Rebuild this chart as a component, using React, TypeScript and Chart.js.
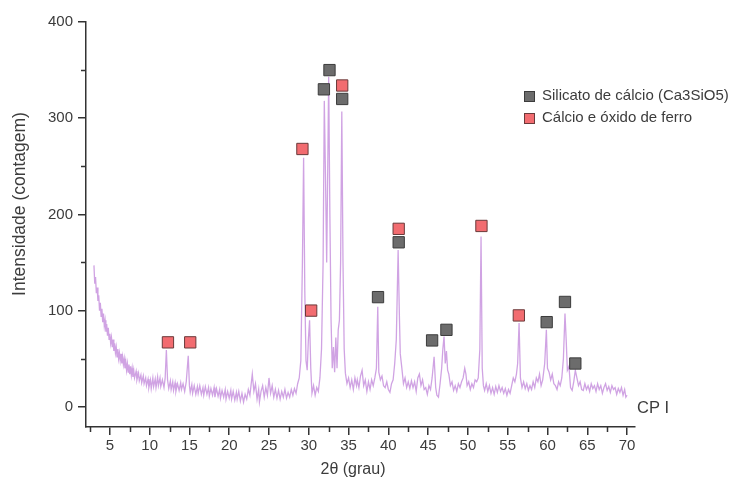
import { useEffect, useRef } from "react";
import { Chart, registerables } from "chart.js";

Chart.register(...registerables);

// Diffraction pattern of CP I cement: 2θ (degrees) and intensity (counts)
const twoTheta = [
  3.0, 3.1, 3.2, 3.3, 3.4, 3.5, 3.6, 3.7, 3.8, 3.9, 4.0, 4.1, 4.2, 4.3, 4.4, 4.5, 4.6, 4.7, 4.8, 4.9,
  5.0, 5.1, 5.2, 5.3, 5.4, 5.5, 5.6, 5.7, 5.8, 5.9, 6.0, 6.1, 6.2, 6.3, 6.4, 6.5, 6.6, 6.7, 6.8, 6.9,
  7.0, 7.1, 7.2, 7.3, 7.4, 7.5, 7.6, 7.7, 7.8, 7.9, 8.0, 8.1, 8.3, 8.4, 8.6, 8.7, 8.9, 9.0, 9.2, 9.3,
  9.5, 9.6, 9.8, 9.9, 10.1, 10.2, 10.4, 10.5, 10.7, 10.8, 11.0, 11.1, 11.3, 11.4, 11.6, 11.8, 11.95, 12.1, 12.25, 12.4,
  12.6, 12.7, 12.9, 13.0, 13.2, 13.3, 13.5, 13.7, 13.9, 14.0, 14.2, 14.4, 14.6, 14.85, 15.0, 15.1, 15.3, 15.4, 15.6, 15.8,
  16.0, 16.1, 16.3, 16.5, 16.7, 16.8, 17.0, 17.2, 17.4, 17.5, 17.7, 17.9, 18.1, 18.2, 18.4, 18.6, 18.8, 18.9, 19.1, 19.3,
  19.5, 19.6, 19.8, 20.0, 20.2, 20.3, 20.5, 20.7, 20.9, 21.0, 21.2, 21.4, 21.6, 21.8, 22.0, 22.2, 22.4, 22.6, 22.9, 23.1,
  23.3, 23.5, 23.7, 23.8, 24.0, 24.2, 24.4, 24.6, 24.8, 25.0, 25.2, 25.4, 25.6, 25.8, 26.0, 26.2, 26.4, 26.6, 26.8, 27.0,
  27.2, 27.4, 27.6, 27.8, 28.0, 28.2, 28.4, 28.6, 28.8, 29.0, 29.2, 29.35, 29.5, 29.65, 29.8, 29.95, 30.1, 30.25, 30.4, 30.6,
  30.8, 31.0, 31.2, 31.4, 31.6, 31.8, 31.95, 32.1, 32.25, 32.4, 32.5, 32.65, 32.8, 32.95, 33.1, 33.25, 33.4, 33.55, 33.7, 33.85,
  34.0, 34.15, 34.3, 34.45, 34.6, 34.8, 35.0, 35.2, 35.4, 35.6, 35.8, 36.0, 36.1, 36.3, 36.5, 36.7, 36.9, 37.1, 37.3, 37.5,
  37.7, 37.9, 38.1, 38.3, 38.5, 38.67, 38.8, 39.0, 39.2, 39.4, 39.6, 39.8, 40.0, 40.2, 40.4, 40.6, 40.8, 41.0, 41.23, 41.4,
  41.5, 41.7, 41.9, 42.1, 42.3, 42.5, 42.7, 42.9, 43.1, 43.3, 43.5, 43.7, 43.9, 44.1, 44.3, 44.5, 44.7, 44.9, 45.1, 45.3,
  45.5, 45.75, 45.95, 46.1, 46.3, 46.5, 46.7, 46.85, 47.0, 47.15, 47.3, 47.45, 47.6, 47.8, 48.0, 48.2, 48.4, 48.6, 48.8, 49.0,
  49.2, 49.4, 49.6, 49.75, 49.9, 50.1, 50.3, 50.5, 50.7, 50.9, 51.1, 51.3, 51.5, 51.65, 51.8, 51.95, 52.1, 52.3, 52.5, 52.7,
  52.9, 53.1, 53.3, 53.5, 53.7, 53.9, 54.1, 54.3, 54.5, 54.7, 54.9, 55.1, 55.3, 55.5, 55.7, 55.9, 56.1, 56.25, 56.43, 56.6,
  56.8, 57.0, 57.2, 57.4, 57.6, 57.8, 58.0, 58.2, 58.4, 58.6, 58.8, 59.0, 59.2, 59.4, 59.65, 59.86, 60.0, 60.2, 60.4, 60.6,
  60.8, 61.0, 61.2, 61.4, 61.6, 61.8, 62.0, 62.2, 62.35, 62.5, 62.7, 62.9, 63.1, 63.3, 63.5, 63.7, 63.9, 64.1, 64.3, 64.5,
  64.7, 64.9, 65.1, 65.3, 65.5, 65.7, 65.9, 66.1, 66.3, 66.5, 66.7, 66.9, 67.1, 67.3, 67.5, 67.7, 67.9, 68.1, 68.3, 68.5,
  68.7, 68.9, 69.1, 69.3, 69.5, 69.7, 69.85, 70.0,
];

const counts = [
  147, 128, 135, 118, 124, 110, 116, 100, 108, 94, 102, 88, 97, 84, 90, 78, 86, 74, 82, 70,
  76, 66, 72, 62, 70, 58, 66, 56, 62, 52, 60, 50, 56, 48, 55, 45, 52, 44, 50, 40,
  47, 38, 45, 36, 44, 34, 42, 33, 40, 31, 38, 30, 37, 28, 35, 27, 33, 25, 32, 24,
  30, 22, 29, 20, 28, 19, 30, 21, 29, 20, 31, 22, 30, 21, 28, 20, 30, 59, 28, 19,
  27, 18, 26, 17, 25, 16, 24, 17, 25, 18, 24, 16, 26, 53, 22, 15, 23, 14, 22, 13,
  21, 14, 22, 13, 20, 12, 21, 13, 20, 11, 19, 12, 20, 10, 19, 11, 18, 9, 17, 10,
  18, 8, 16, 9, 17, 8, 16, 7, 15, 8, 16, 6, 14, 5, 13, 8, 18, 12, 34, 16,
  24, 8, 18, 5, 16, 22, 10, 20, 12, 30, 14, 22, 10, 18, 9, 17, 8, 16, 10, 18,
  9, 15, 10, 18, 12, 19, 14, 24, 30, 48, 150, 259, 120, 48, 38, 70, 90, 40, 14, 22,
  12, 20, 16, 30, 60, 150, 318, 240, 150, 260, 343, 200, 90, 40, 62, 36, 72, 40, 80, 90,
  150, 307, 150, 60, 35, 24, 30, 20, 28, 18, 30, 22, 28, 20, 32, 38, 22, 28, 16, 26,
  18, 28, 22, 30, 40, 104, 36, 28, 32, 22, 20, 26, 18, 15, 24, 28, 45, 70, 163, 90,
  55, 40, 24, 30, 20, 26, 19, 27, 20, 26, 16, 30, 34, 22, 28, 18, 20, 13, 22, 18,
  30, 52, 20, 12, 10, 24, 40, 60, 73, 45, 58, 38, 34, 22, 26, 17, 22, 16, 24, 20,
  26, 30, 40, 34, 22, 26, 18, 24, 20, 28, 26, 30, 60, 177, 40, 22, 17, 24, 16, 22,
  14, 20, 13, 21, 15, 22, 16, 20, 14, 19, 12, 18, 14, 22, 30, 26, 34, 45, 87, 30,
  20, 26, 19, 24, 17, 22, 18, 26, 20, 30, 26, 34, 22, 28, 45, 80, 40, 36, 28, 34,
  24, 22, 18, 26, 22, 30, 50, 97, 70, 38, 42, 20, 17, 26, 38, 30, 22, 26, 18, 17,
  24, 18, 22, 16, 24, 19, 22, 16, 24, 18, 22, 14, 20, 24, 17, 21, 15, 22, 18, 20,
  13, 19, 15, 20, 12, 18, 10, 12,
];

// Phase identification markers
const silicatoTheta = [31.9, 32.6, 34.2, 38.7, 41.3, 45.5, 47.3, 59.9, 62.2, 63.5];
const silicatoCounts = [330, 350, 320, 114, 171, 69, 80, 88, 109, 45];
const ferroTheta = [12.3, 15.1, 29.2, 30.3, 34.2, 41.3, 51.7, 56.4];
const ferroCounts = [67, 67, 268, 100, 334, 185, 188, 95];

// Axis ticks
const xTickValues = [5, 10, 15, 20, 25, 30, 35, 40, 45, 50, 55, 60, 65, 70];
const xMinorValues = xTickValues.map((v) => v - 2.5);
const yTickValues = [0, 100, 200, 300, 400];
const yMinorValues = [50, 150, 250, 350];

const seriesNames = ["Silicato de cálcio (Ca3SiO5)", "Cálcio e óxido de ferro"];
const sampleLabel = "CP I";
const xTitle = "2θ (grau)";
const yTitle = "Intensidade (contagem)";

const AXIS = "#333333";
const TEXT = "#3c3c3c";
const LINE = "rgba(196, 140, 220, 0.8)";
const GRAY_FILL = "#6c6c6c";
const GRAY_EDGE = "#3c3c3c";
const RED_FILL = "#f26c70";
const RED_EDGE = "#6a3a3a";
const FONT = "'Liberation Sans', Arial, Helvetica, sans-serif";

const decorations = {
  id: "decorations",
  afterDraw(chart: any) {
    const { ctx, chartArea } = chart;
    const xs = chart.scales.x;
    const ys = chart.scales.y;
    ctx.save();

    // minor ticks
    ctx.strokeStyle = AXIS;
    ctx.lineWidth = 1.5;
    ctx.beginPath();
    for (const v of xMinorValues) {
      const px = Math.round(xs.getPixelForValue(v)) + 0.5;
      ctx.moveTo(px, chartArea.bottom);
      ctx.lineTo(px, chartArea.bottom + 5);
    }
    for (const v of yMinorValues) {
      const py = Math.round(ys.getPixelForValue(v)) + 0.5;
      ctx.moveTo(chartArea.left - 5, py);
      ctx.lineTo(chartArea.left, py);
    }
    ctx.stroke();

    // axis titles
    ctx.fillStyle = TEXT;
    ctx.font = `16px ${FONT}`;
    ctx.textAlign = "center";
    ctx.textBaseline = "middle";
    ctx.fillText(xTitle, 353, 470);

    ctx.save();
    ctx.translate(20, 204);
    ctx.rotate(-Math.PI / 2);
    ctx.font = `17.5px ${FONT}`;
    ctx.fillText(yTitle, 0, 0);
    ctx.restore();

    // legend
    const entries = [
      { fill: GRAY_FILL, edge: GRAY_EDGE, y: 96 },
      { fill: RED_FILL, edge: RED_EDGE, y: 118 },
    ];
    ctx.font = `15px ${FONT}`;
    ctx.textAlign = "left";
    entries.forEach((e, i) => {
      ctx.fillStyle = e.fill;
      ctx.strokeStyle = e.edge;
      ctx.lineWidth = 1;
      ctx.fillRect(524, e.y - 5, 11, 11);
      ctx.strokeRect(524.5, e.y - 4.5, 10, 10);
      ctx.fillStyle = TEXT;
      ctx.fillText(seriesNames[i], 542, e.y);
    });

    // sample label
    ctx.font = `16.5px ${FONT}`;
    ctx.fillText(sampleLabel, 637, 408);

    ctx.restore();
  },
};

export default function App() {
  const canvasRef = useRef<HTMLCanvasElement | null>(null);

  useEffect(() => {
    const canvas = canvasRef.current;
    if (!canvas) return;

    const markerSet = (label: string, xs: number[], ys: number[], fill: string, edge: string) => ({
      type: "scatter" as const,
      label,
      data: xs.map((x, i) => ({ x, y: ys[i] })),
      showLine: false,
      pointStyle: "rect" as const,
      pointRadius: 8,
      pointBackgroundColor: fill,
      pointBorderColor: edge,
      pointBorderWidth: 1,
      order: 0,
    });

    const chart = new Chart(canvas, {
      type: "line",
      data: {
        datasets: [
          {
            label: sampleLabel,
            data: twoTheta.map((x, i) => ({ x, y: counts[i] })),
            borderColor: LINE,
            borderWidth: 1.3,
            pointRadius: 0,
            tension: 0,
            fill: false,
            order: 2,
          },
          markerSet(seriesNames[0], silicatoTheta, silicatoCounts, GRAY_FILL, GRAY_EDGE),
          markerSet(seriesNames[1], ferroTheta, ferroCounts, RED_FILL, RED_EDGE),
        ] as any,
      },
      options: {
        responsive: false,
        animation: false,
        devicePixelRatio: 1,
        layout: { padding: { top: 22, right: 102, bottom: 0, left: 0 } },
        plugins: {
          legend: { display: false },
          tooltip: { enabled: false },
        },
        scales: {
          x: {
            type: "linear",
            min: 2,
            max: 71,
            afterBuildTicks: (scale: any) => {
              scale.ticks = xTickValues.map((value) => ({ value }));
            },
            afterFit: (scale: any) => {
              scale.height = 56;
            },
            ticks: {
              color: TEXT,
              font: { family: FONT, size: 15 },
              padding: 2,
              maxRotation: 0,
              autoSkip: false,
            },
            grid: {
              drawOnChartArea: false,
              drawTicks: true,
              tickLength: 8,
              color: AXIS,
              lineWidth: 1.5,
            },
            border: { display: true, color: AXIS, width: 1.5 },
          },
          y: {
            type: "linear",
            min: -21,
            max: 400,
            afterBuildTicks: (scale: any) => {
              scale.ticks = yTickValues.map((value) => ({ value }));
            },
            afterFit: (scale: any) => {
              scale.width = 86;
            },
            ticks: {
              color: TEXT,
              font: { family: FONT, size: 15 },
              padding: 5,
              autoSkip: false,
            },
            grid: {
              drawOnChartArea: false,
              drawTicks: true,
              tickLength: 8,
              color: AXIS,
              lineWidth: 1.5,
            },
            border: { display: true, color: AXIS, width: 1.5 },
          },
        },
      },
      plugins: [decorations],
    });

    return () => chart.destroy();
  }, []);

  return (
    <div style={{ position: "absolute", left: 0, top: 0, width: 737, height: 483, background: "#ffffff" }}>
      <canvas ref={canvasRef} width={737} height={483} style={{ display: "block" }} />
    </div>
  );
}
